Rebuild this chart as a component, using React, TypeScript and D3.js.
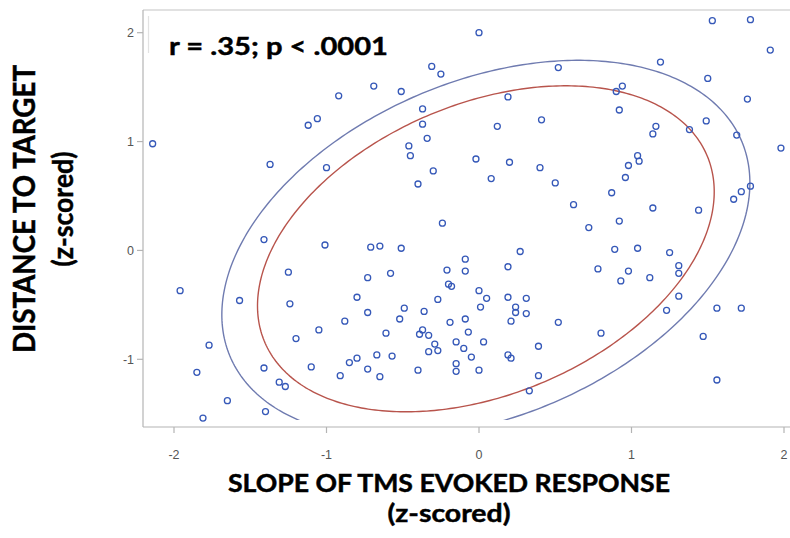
import React from "react";
import * as d3 from "d3";

// ---- data ----
const X_TICKS = [-2, -1, 0, 1, 2];
const Y_TICKS = [-1, 0, 1, 2];
const X_TITLE = ["SLOPE OF TMS EVOKED RESPONSE", "(z-scored)"];
const Y_TITLE = ["DISTANCE TO TARGET", "(z-scored)"];
const ANNOTATION = "r = .35; p < .0001";

const R = 0.35; // correlation
const ELLIPSE_LEVELS = [0.7, 0.8]; // prediction levels (red, blue)
const ELLIPSE_CENTER = [0.045, 0.015];
const ELLIPSE_SD = [0.965, 0.965];

const xs = [
  -0.31, -0.25, -0.92, -0.69, -0.51, -1.06, -1.12, -0.37, -0.37, -0.34, -0.46, -0.45, -2.14, -1.37, -1.0, -0.3, -0.4,
  0.0, 1.53, 1.78, 1.91, 1.19, 0.52, 1.5, 1.76, 0.94, 0.9, 0.19, 0.92, 0.41, 0.12, 1.49, 1.16, 1.14, 1.38, 1.69, 1.98,
  -0.02, 0.2, 0.4, 1.04, 1.05, 0.98, 0.96, 0.08, 0.5, 0.87, 1.78, 1.72, 1.67, 0.62, 1.14, 1.44, 0.92,
  -0.24, -1.41, -1.01, -0.71, -0.65, -0.51, -1.25, -0.73, -0.58, -0.21, -0.2, -0.18, -1.96, -1.57, -1.24, -0.8, -0.27,
  -0.49, -0.73, -0.36, -0.52, -0.88, -0.19, -1.05, -0.61, -0.37, -0.39, -0.33, -0.15, -1.2, -1.77, -0.29, -0.33, -0.27,
  -0.67, -0.57, -0.8, -0.85, -1.1, -1.41, -0.73, -0.4, -0.15, -0.15, -1.85, -0.91, -0.65, -1.31, -1.27, -1.65, -1.4, -1.81,
  0.72, -0.09, -0.09, 0.27, 0.19, 0.89, 1.04, 1.25, 0.78, 0.98, 0.93, 1.12, 1.31, 1.31, 0.0, 0.05, 0.01, 0.19, 0.31, 0.24,
  0.24, 0.31, 0.21, -0.09, -0.07, 0.52, 1.31, 1.23, 1.56, 1.72, 0.8, 1.47, -0.1, 0.03, -0.05, 0.19, 0.21, 0.39, 0.0, 0.39,
  0.33, 1.56,
];
const ys = [
  1.69, 1.62, 1.42, 1.51, 1.46, 1.21, 1.15, 1.3, 1.16, 1.03, 0.96, 0.87, 0.98, 0.79, 0.76, 0.73, 0.61,
  2.0, 2.11, 2.12, 1.84, 1.73, 1.68, 1.58, 1.39, 1.51, 1.46, 1.41, 1.29, 1.2, 1.14, 1.19, 1.14, 1.07, 1.11, 1.06, 0.94,
  0.84, 0.81, 0.76, 0.87, 0.82, 0.78, 0.67, 0.66, 0.62, 0.53, 0.59, 0.54, 0.47, 0.42, 0.39, 0.37, 0.27,
  0.25, 0.1, 0.05, 0.03, 0.04, 0.02, -0.2, -0.25, -0.21, -0.18, -0.31, -0.33, -0.37, -0.46, -0.49, -0.43, -0.45,
  -0.53, -0.57, -0.56, -0.63, -0.65, -0.66, -0.73, -0.76, -0.73, -0.77, -0.78, -0.84, -0.81, -0.87, -0.86, -0.93, -0.92,
  -0.96, -0.97, -0.99, -1.03, -1.07, -1.08, -1.09, -1.1, -1.04, -1.11, -1.12, -1.15, -1.16, -1.21, -1.25, -1.38, -1.48, -1.54,
  0.21, -0.08, -0.19, -0.01, -0.15, 0.01, 0.02, -0.02, -0.17, -0.19, -0.28, -0.25, -0.14, -0.21, -0.37, -0.44, -0.52, -0.43, -0.44, -0.52,
  -0.57, -0.58, -0.65, -0.63, -0.75, -0.66, -0.42, -0.55, -0.53, -0.53, -0.76, -0.79, -0.9, -0.84, -0.98, -0.96, -0.99, -0.88, -1.1, -1.15,
  -1.29, -1.19,
];

// ---- layout ----
const W = 790;
const H = 538;
const FRAME = { left: 143, top: 10, right: 792, bottom: 427 };
const CLIP_BOTTOM = 420;

const x = d3.scaleLinear().domain([-2, 2]).range([174, 784]);
const y = d3.scaleLinear().domain([-1, 2]).range([359.3, 32.7]);

function ellipsePath(level: number) {
  const c = -2 * Math.log(1 - level);
  const s = Math.sqrt(c);
  const pts: [number, number][] = d3.range(0, 361, 1).map((deg) => {
    const t = (deg * Math.PI) / 180;
    const u = Math.cos(t);
    const v = Math.sin(t);
    const ex = ELLIPSE_CENTER[0] + ELLIPSE_SD[0] * s * u;
    const ey = ELLIPSE_CENTER[1] + ELLIPSE_SD[1] * s * (R * u + Math.sqrt(1 - R * R) * v);
    return [x(ex), y(ey)];
  });
  return d3.line()(pts) || "";
}

const ELLIPSE_COLORS = ["#b8544c", "#6f7bb0"];
const TITLE_FONT = "Lato, 'Open Sans', 'Liberation Sans', sans-serif";
const TICK_FONT = "'Liberation Sans', Arial, sans-serif";
const BOLD = { fontFamily: TITLE_FONT, fontWeight: 700, fill: "#000", stroke: "#000", strokeWidth: 0.45 } as const;

export default function App() {
  const points = xs.map((v, i) => ({ x: v, y: ys[i] }));
  return (
    <div style={{ position: "absolute", left: 0, top: 0 }}>
      <svg width={W} height={H} style={{ display: "block", background: "#fff" }}>
        <defs>
          <clipPath id="dataClip">
            <rect x={FRAME.left} y={FRAME.top} width={FRAME.right - FRAME.left} height={CLIP_BOTTOM - FRAME.top} />
          </clipPath>
        </defs>
        {/* frame */}
        <line x1={FRAME.left} x2={FRAME.right} y1={FRAME.top} y2={FRAME.top} stroke="#c4c4c4" strokeWidth={1.2} />
        <line x1={FRAME.left} x2={FRAME.left} y1={FRAME.top} y2={FRAME.bottom} stroke="#b4b4b4" strokeWidth={1.2} />
        <line x1={FRAME.left} x2={FRAME.right} y1={FRAME.bottom} y2={FRAME.bottom} stroke="#b4b4b4" strokeWidth={1.2} />
        {/* faint legend residue line */}
        <line x1={148.5} x2={148.5} y1={16} y2={53} stroke="#e2e2e2" strokeWidth={1.2} />

        {/* y ticks */}
        {Y_TICKS.map((t) => (
          <g key={"y" + t}>
            <line x1={FRAME.left - 6} x2={FRAME.left} y1={y(t)} y2={y(t)} stroke="#b4b4b4" strokeWidth={1.2} />
            <text x={FRAME.left - 9} y={y(t)} dy="0.35em" textAnchor="end" fontFamily={TICK_FONT} fontSize={12.5} fill="#555">
              {t}
            </text>
          </g>
        ))}
        {/* x ticks */}
        {X_TICKS.map((t) => (
          <g key={"x" + t}>
            <line x1={x(t)} x2={x(t)} y1={FRAME.bottom} y2={FRAME.bottom + 6} stroke="#b4b4b4" strokeWidth={1.2} />
            <text x={x(t)} y={459} textAnchor="middle" fontFamily={TICK_FONT} fontSize={12.5} fill="#555">
              {t}
            </text>
          </g>
        ))}

        {/* ellipses */}
        <g clipPath="url(#dataClip)">
          {ELLIPSE_LEVELS.map((lv, i) => (
            <path key={lv} d={ellipsePath(lv)} fill="none" stroke={ELLIPSE_COLORS[i]} strokeWidth={1.4} />
          ))}
        </g>

        {/* points */}
        {points.map((p, i) => (
          <circle key={i} cx={x(p.x)} cy={y(p.y)} r={3} fill="none" stroke="#3558b8" strokeWidth={1.3} />
        ))}

        {/* annotation */}
        <text x={169} y={54.5} {...BOLD} fontSize={25.5} textLength={219} lengthAdjust="spacingAndGlyphs">
          {ANNOTATION}
        </text>

        {/* x title */}
        <text x={449} y={492} textAnchor="middle" {...BOLD} fontSize={24} textLength={442} lengthAdjust="spacingAndGlyphs">
          {X_TITLE[0]}
        </text>
        <text x={449} y={522} textAnchor="middle" {...BOLD} fontSize={24} textLength={123} lengthAdjust="spacingAndGlyphs">
          {X_TITLE[1]}
        </text>

        {/* y title */}
        <g transform="translate(35,209) rotate(-90)">
          <text x={0} y={0} textAnchor="middle" {...BOLD} fontSize={29.5} textLength={288} lengthAdjust="spacingAndGlyphs">
            {Y_TITLE[0]}
          </text>
        </g>
        <g transform="translate(72.5,209) rotate(-90)">
          <text x={0} y={0} textAnchor="middle" {...BOLD} fontSize={28} textLength={115} lengthAdjust="spacingAndGlyphs">
            {Y_TITLE[1]}
          </text>
        </g>
      </svg>
    </div>
  );
}
